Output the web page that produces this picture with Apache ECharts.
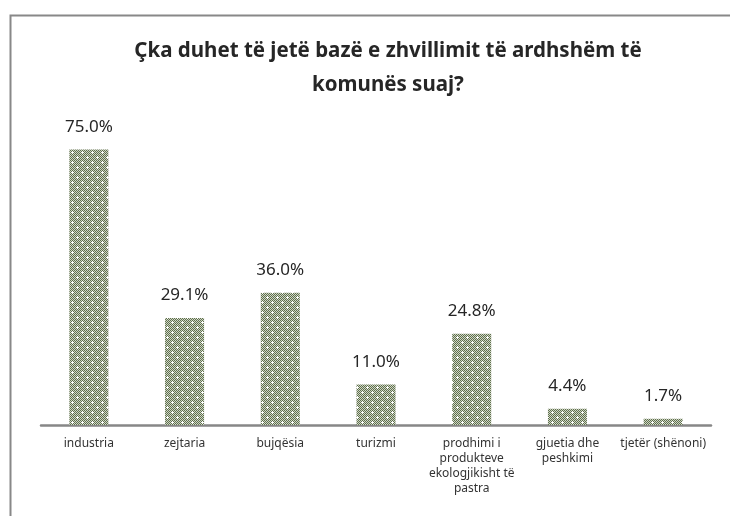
<!DOCTYPE html>
<html>
<head>
<meta charset="utf-8">
<script src="https://cdn.jsdelivr.net/npm/echarts@6/dist/echarts.min.js"></script>
<style>html,body{margin:0;padding:0;background:#fff;}#c{width:730px;height:516px;}</style>
</head>
<body>
<div id="c"></div>
<script>
const titleText = 'Çka duhet të jetë bazë e zhvillimit të ardhshëm të\nkomunës suaj?';
const categories = ['industria', 'zejtaria', 'bujqësia', 'turizmi', 'prodhimi i\nprodukteve\nekologjikisht të\npastra', 'gjuetia dhe\npeshkimi', 'tjetër (shënoni)'];
const values = [75.0, 29.1, 36.0, 11.0, 24.8, 4.4, 1.7];

// pattern tile: fine checker with white dots
function makePattern() {
  const c = document.createElement('canvas');
  c.width = 10; c.height = 10;
  const g = c.getContext('2d');
  for (let y = 0; y < 10; y++) {
    for (let x = 0; x < 10; x++) {
      g.fillStyle = ((x + y) % 2 === 0) ? '#5f704c' : '#cfd5c6';
      g.fillRect(x, y, 1, 1);
    }
  }
  g.fillStyle = '#ffffff';
  [[2, 2], [7, 7]].forEach(([px, py]) => {
    g.fillRect(px - 1, py, 3, 1);
    g.fillRect(px, py - 1, 1, 3);
  });
  return c;
}

const chart = echarts.init(document.getElementById('c'), null, {renderer: 'canvas'});
chart.setOption({
  animation: false,
  backgroundColor: '#ffffff',
  graphic: [{
    type: 'rect', left: 8, top: 13,
    shape: {width: 760, height: 540},
    style: {fill: 'none', stroke: '#888888', lineWidth: 2},
    silent: true
  }],
  title: {
    text: titleText,
    left: 383, textAlign: 'center', top: 29,
    textStyle: {fontFamily: 'Noto Sans', fontWeight: 'bold', fontSize: 20.5, color: '#262626', lineHeight: 34}
  },
  grid: {left: 41, right: 19, top: 131, bottom: 91, containLabel: false},
  xAxis: {
    type: 'category',
    data: categories,
    axisLine: {show: true, lineStyle: {color: '#878787', width: 2.5}},
    axisTick: {show: false},
    axisLabel: {interval: 0, margin: 11, fontFamily: 'Noto Sans', fontSize: 12, color: '#333333', lineHeight: 15, align: 'center'}
  },
  yAxis: {
    type: 'value', min: 0, max: 80,
    show: false,
    splitLine: {show: false}
  },
  series: [{
    type: 'bar',
    data: values,
    barWidth: 39,
    itemStyle: {color: {image: makePattern(), repeat: 'repeat'}},
    label: {
      show: true, position: 'top', distance: 14,
      formatter: p => p.value.toFixed(1) + '%',
      fontFamily: 'Noto Sans', fontSize: 17, color: '#262626'
    }
  }]
});
</script>
</body>
</html>
